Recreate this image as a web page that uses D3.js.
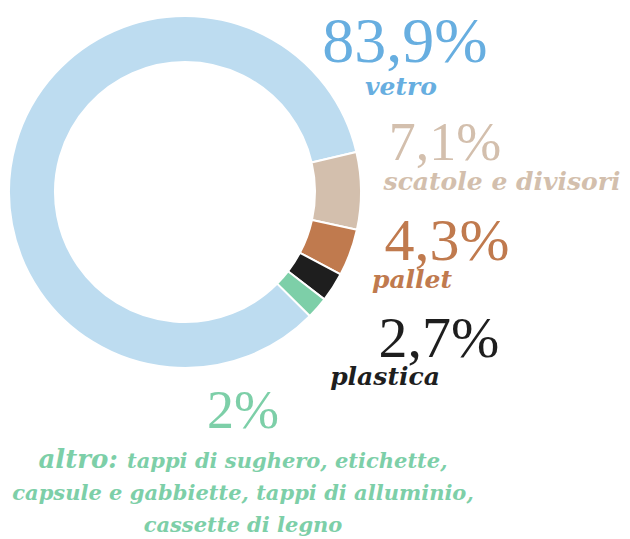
<!DOCTYPE html>
<meta charset="utf-8">
<style>
body { margin: 0; background: #fff; }
svg { display: block; }
.lab { font-weight: bold; font-style: italic; text-anchor: middle; }
</style>
<svg></svg>
<script src="https://d3js.org/d3.v7.min.js"></script>
<script>

var categories = ['vetro', 'scatole e divisori', 'pallet', 'plastica', 'altro'];
var values = [83.9, 7.1, 4.3, 2.7, 2];
var sliceColors = ['#bddcf0', '#d3bfad', '#c07a4e', '#1e1e1e', '#7dcfa8'];
var textColors = ['#67aee0', '#d3bfad', '#c07a4e', '#1e1e1e', '#7dcfa8'];
var altroDetail = ['tappi di sughero, etichette,', 'capsule e gabbiette, tappi di alluminio,', 'cassette di legno'];

var width = 630, height = 539;
var cx = 185, cy = 192, outerR = 176, innerR = 130;

// where each value / label pair sits
var layout = [
  { x: 405, y: 62, size: 64, lx: 401, ly: 95, lsize: 25 },
  { x: 445, y: 160, size: 54, lx: 502, ly: 190, lsize: 25 },
  { x: 447, y: 260, size: 60, lx: 412, ly: 288, lsize: 25 },
  { x: 439, y: 357, size: 58, lx: 385, ly: 385, lsize: 25 },
  { x: 243, y: 428, size: 54, lx: 243, ly: 468, lsize: 21 }
];

var fmt = d3.formatLocale({ decimal: ',', thousands: '.', grouping: [3], currency: ['', '€'] }).format('.1~f');

var svg = d3.select('svg')
  .attr('width', width)
  .attr('height', height);

var pie = d3.pie()
  .sort(null)
  .value(function (d) { return d; })
  .startAngle(134.8 * Math.PI / 180)
  .endAngle(134.8 * Math.PI / 180 + 2 * Math.PI);

var arc = d3.arc().innerRadius(innerR).outerRadius(outerR);

svg.append('g')
  .attr('transform', 'translate(' + cx + ',' + cy + ')')
  .selectAll('path')
  .data(pie(values))
  .enter().append('path')
  .attr('d', arc)
  .attr('fill', function (d, i) { return sliceColors[i]; })
  .attr('stroke', '#fff')
  .attr('stroke-width', 2);

svg.selectAll('.num')
  .data(values)
  .enter().append('text')
  .attr('class', 'num')
  .attr('font-family', 'Liberation Serif')
  .attr('text-anchor', 'middle')
  .attr('x', function (d, i) { return layout[i].x; })
  .attr('y', function (d, i) { return layout[i].y; })
  .attr('font-size', function (d, i) { return layout[i].size; })
  .attr('fill', function (d, i) { return textColors[i]; })
  .text(function (d) { return fmt(d) + '%'; });

svg.selectAll('.lab')
  .data(categories)
  .enter().append('text')
  .attr('class', 'lab')
  .attr('font-family', 'DejaVu Serif')
  .attr('x', function (d, i) { return layout[i].lx; })
  .attr('y', function (d, i) { return layout[i].ly; })
  .attr('font-size', function (d, i) { return layout[i].lsize; })
  .attr('fill', function (d, i) { return textColors[i]; })
  .each(function (d, i) {
    var t = d3.select(this);
    if (d === 'altro') {
      t.append('tspan').attr('font-size', 26).text('altro: ');
      t.append('tspan').text(altroDetail[0]);
      altroDetail.slice(1).forEach(function (line) {
        t.append('tspan').attr('x', layout[i].lx).attr('dy', 32).text(line);
      });
    } else {
      t.text(d);
    }
  });

</script>
